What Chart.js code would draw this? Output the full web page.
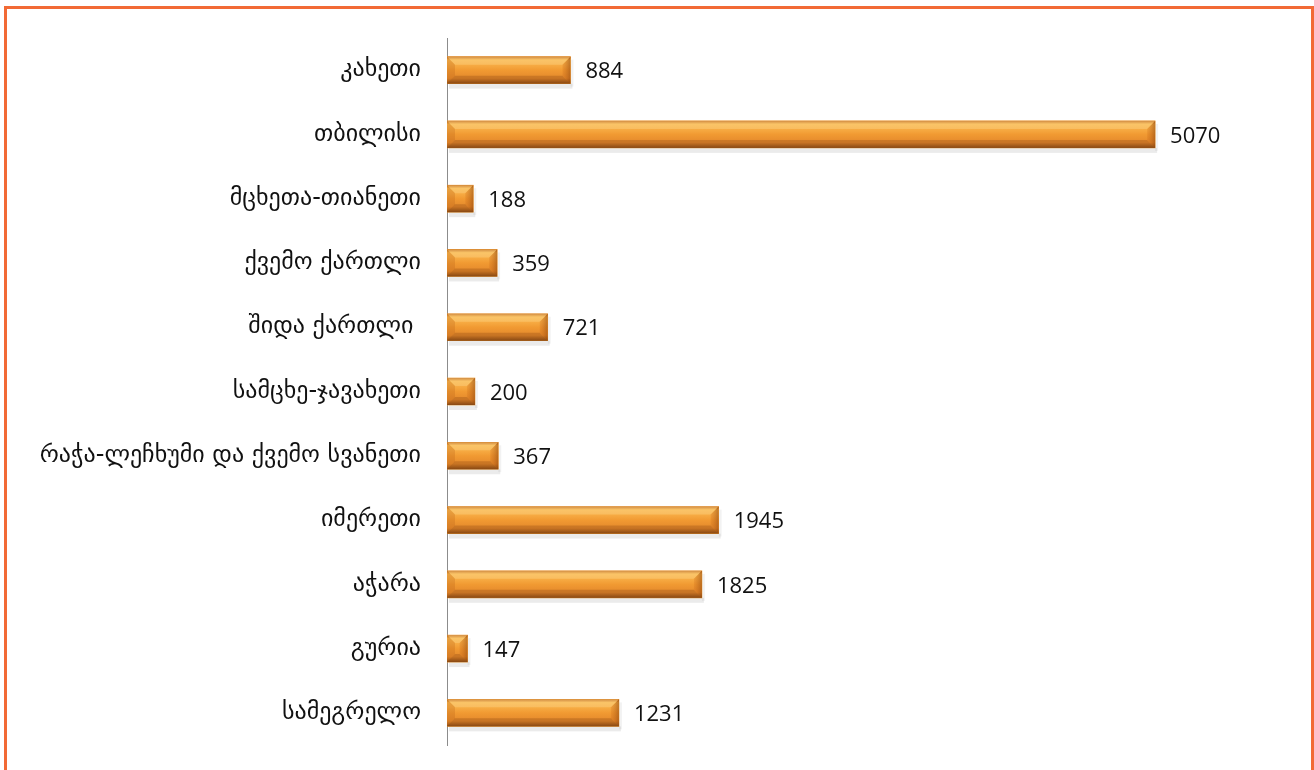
<!DOCTYPE html>
<html>
<head>
<meta charset="utf-8">
<script src="https://cdn.jsdelivr.net/npm/chart.js@4"></script>
<style>
  body { margin: 0; background: #fff; }
  #wrap { position: relative; width: 1314px; height: 770px; overflow: hidden; }
  #frame { position: absolute; left: 4px; top: 6px; width: 1304px; height: 800px; border: 3px solid #F26A35; }
  canvas { position: absolute; left: 0; top: 0; }
</style>
</head>
<body>
<div id="wrap">
  <div id="frame"></div>
  <canvas id="regionChart" width="1314" height="770"></canvas>
</div>
<script>
const regions = ['კახეთი', 'თბილისი', 'მცხეთა-თიანეთი', 'ქვემო ქართლი', 'შიდა ქართლი ', 'სამცხე-ჯავახეთი', 'რაჭა-ლეჩხუმი და ქვემო სვანეთი', 'იმერეთი', 'აჭარა', 'გურია', 'სამეგრელო'];
const counts = [884, 5070, 188, 359, 721, 200, 367, 1945, 1825, 147, 1231];
const xMax = 6000;

document.addEventListener("DOMContentLoaded", function() {
    const ctx = document.getElementById('regionChart').getContext('2d');

    // shaded "3D" look on top of each bar + value labels
    const bevelBars = {
        id: 'bevelBars',
        afterDatasetsDraw(chart) {
            const c = chart.ctx;
            const meta = chart.getDatasetMeta(0);
            meta.data.forEach(function(bar, i) {
                const h = bar.height;
                const top = bar.y - h / 2;
                const bot = top + h;
                const left = bar.base;
                const right = bar.x;
                const b = Math.min(8, (right - left) / 2);
                c.save();
                // shadow
                c.fillStyle = 'rgba(0,0,0,0.08)';
                c.fillRect(left + 2, bot, right - left, 5);
                c.fillStyle = 'rgba(0,0,0,0.05)';
                c.fillRect(right, top + 3, 3, h);
                // face
                const g = c.createLinearGradient(0, top, 0, bot);
                g.addColorStop(0, '#C06A1C');
                g.addColorStop(0.12, '#F8B850');
                g.addColorStop(0.3, '#F7AC44');
                g.addColorStop(0.5, '#F19A32');
                g.addColorStop(0.8, '#E4892C');
                g.addColorStop(1, '#8E4E16');
                c.fillStyle = g;
                c.fillRect(left, top, right - left, h);
                // top bevel highlight
                c.fillStyle = 'rgba(255,225,160,0.3)';
                c.beginPath();
                c.moveTo(left, top);
                c.lineTo(right, top);
                c.lineTo(right - b, top + b);
                c.lineTo(left + b, top + b);
                c.closePath();
                c.fill();
                // bottom bevel
                c.fillStyle = 'rgba(120,55,10,0.25)';
                c.beginPath();
                c.moveTo(left, bot);
                c.lineTo(right, bot);
                c.lineTo(right - b, bot - b);
                c.lineTo(left + b, bot - b);
                c.closePath();
                c.fill();
                // right end
                const gr = c.createLinearGradient(right - b, 0, right, 0);
                gr.addColorStop(0, 'rgba(200,100,20,0.2)');
                gr.addColorStop(1, 'rgba(140,65,10,0.55)');
                c.fillStyle = gr;
                c.beginPath();
                c.moveTo(right, top);
                c.lineTo(right, bot);
                c.lineTo(right - b, bot - b);
                c.lineTo(right - b, top + b);
                c.closePath();
                c.fill();
                // left end
                c.fillStyle = 'rgba(180,90,20,0.25)';
                c.beginPath();
                c.moveTo(left, top);
                c.lineTo(left, bot);
                c.lineTo(left + b, bot - b);
                c.lineTo(left + b, top + b);
                c.closePath();
                c.fill();
                // value label
                c.fillStyle = '#111';
                c.font = '22px "Open Sans", sans-serif';
                c.textAlign = 'left';
                c.textBaseline = 'middle';
                c.fillText(counts[i], right + 15, bar.y + 2);
                c.restore();
            });
        }
    };

    const regionChart = new Chart(ctx, {
        type: 'bar',
        data: {
            labels: regions,
            datasets: [{
                data: counts,
                backgroundColor: '#F09A30',
                borderWidth: 0,
                barThickness: 27
            }]
        },
        options: {
            indexAxis: 'y',
            responsive: false,
            animation: false,
            layout: { padding: { top: 38, bottom: 25, right: 29, left: 0 } },
            plugins: {
                legend: { display: false },
                tooltip: { enabled: false }
            },
            scales: {
                x: { display: false, min: 0, max: xMax },
                y: {
                    afterFit: function(scale) {
                        scale.width = 447;
                        scale.paddingTop = 0;
                        scale.paddingBottom = 0;
                    },
                    grid: { display: false, drawTicks: false },
                    border: { display: true, color: '#8c8c8c', width: 1 },
                    ticks: {
                        padding: 26,
                        color: '#111',
                        font: { family: '"DejaVu Sans", sans-serif', size: 24 }
                    }
                }
            }
        },
        plugins: [bevelBars]
    });
});
</script>
</body>
</html>
